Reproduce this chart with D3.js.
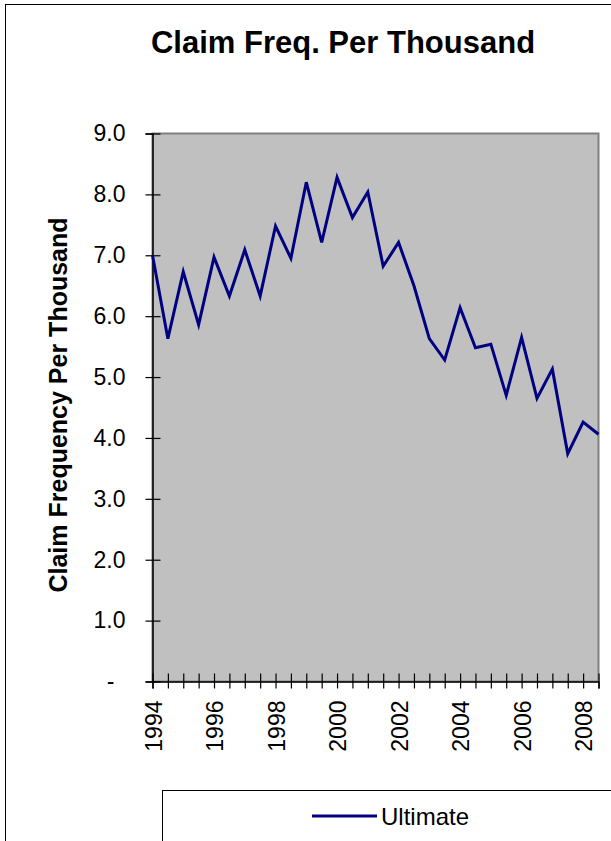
<!DOCTYPE html>
<html>
<head>
<meta charset="utf-8">
<script src="https://cdn.jsdelivr.net/npm/d3@7"></script>
<style>
    body { margin: 0; background: #fff; }
    svg { display: block; font-family: "Liberation Sans", Arial, sans-serif; }
</style>
</head>
<body>
<div id="chart"></div>
<script>

// half-year points, 1994 .. 2008.5
let periods = [1994, 1994.5, 1995, 1995.5, 1996, 1996.5, 1997, 1997.5, 1998, 1998.5,
               1999, 1999.5, 2000, 2000.5, 2001, 2001.5, 2002, 2002.5, 2003, 2003.5,
               2004, 2004.5, 2005, 2005.5, 2006, 2006.5, 2007, 2007.5, 2008, 2008.5];

let ultimate = [7.00, 5.63, 6.73, 5.86, 6.97, 6.33, 7.09, 6.33, 7.48, 6.95,
                8.20, 7.21, 8.28, 7.62, 8.04, 6.82, 7.21, 6.50, 5.63, 5.28,
                6.14, 5.48, 5.54, 4.70, 5.65, 4.65, 5.13, 3.74, 4.26, 4.06];

let yTicks = [0, 1, 2, 3, 4, 5, 6, 7, 8, 9];
let yearLabels = [1994, 1996, 1998, 2000, 2002, 2004, 2006, 2008];

let width = 611, height = 841;
let plot = {left: 152.5, right: 598.5, top: 133.5, bottom: 681.5};

let svg = d3.select("#chart").append("svg")
    .attr("width", width)
    .attr("height", height);

// outer chart frame (runs off the picture on the right and bottom)
svg.append("rect")
    .attr("x", 5.5).attr("y", 4.5)
    .attr("width", 700).attr("height", 900)
    .attr("fill", "#fff")
    .attr("stroke", "#000").attr("stroke-width", 1);

// title
svg.append("text")
    .attr("x", 343).attr("y", 53)
    .attr("text-anchor", "middle")
    .attr("font-size", 31).attr("font-weight", "bold")
    .text("Claim Freq. Per Thousand");

let x = d3.scaleLinear()
    .domain([periods[0], periods[periods.length - 1]])
    .range([plot.left, plot.right]);

let y = d3.scaleLinear()
    .domain([0, 9])
    .range([plot.bottom, plot.top]);

// plot area
svg.append("rect")
    .attr("x", plot.left).attr("y", plot.top)
    .attr("width", plot.right - plot.left).attr("height", plot.bottom - plot.top)
    .attr("fill", "#c0c0c0")
    .attr("stroke", "#808080").attr("stroke-width", 2);

// y axis
let yAxis = d3.axisLeft(y)
    .tickValues(yTicks)
    .tickSize(7)
    .tickFormat(d => d === 0 ? "-" : d3.format(".1f")(d));

let gy = svg.append("g")
    .attr("transform", "translate(" + plot.left + ",0)")
    .call(yAxis);
gy.select(".domain").attr("stroke", "#000").attr("stroke-width", 1.5);
gy.selectAll(".tick line").attr("x1", 8).attr("stroke", "#000").attr("stroke-width", 1.2);
gy.selectAll(".tick text")
    .attr("font-size", 23)
    .attr("font-family", "Liberation Sans, Arial, sans-serif")
    .attr("fill", "#000")
    .attr("x", d => d === 0 ? -38 : -27);

// x axis
let xAxis = d3.axisBottom(x)
    .tickValues(periods)
    .tickSize(7)
    .tickFormat(d => yearLabels.includes(d) ? d3.format("d")(d) : "");

let gx = svg.append("g")
    .attr("transform", "translate(0," + plot.bottom + ")")
    .call(xAxis);
gx.select(".domain").attr("stroke", "#000").attr("stroke-width", 1.5);
gx.selectAll(".tick line").attr("y1", -8).attr("stroke", "#000").attr("stroke-width", 1.2);
gx.selectAll(".tick text")
    .attr("font-size", 23)
    .attr("font-family", "Liberation Sans, Arial, sans-serif")
    .attr("fill", "#000")
    .attr("text-anchor", "end")
    .attr("transform", "rotate(-90)")
    .attr("x", -19)
    .attr("y", 0)
    .attr("dy", "0.38em");

// y axis title
svg.append("text")
    .attr("transform", "translate(67,405) rotate(-90)")
    .attr("text-anchor", "middle")
    .attr("font-size", 25).attr("font-weight", "bold")
    .text("Claim Frequency Per Thousand");

// the series
let line = d3.line()
    .x((d, i) => x(periods[i]))
    .y(d => y(d));

svg.append("path")
    .datum(ultimate)
    .attr("fill", "none")
    .attr("stroke", "#000080")
    .attr("stroke-width", 3)
    .attr("stroke-linejoin", "miter")
    .attr("d", line);

// legend
let legend = svg.append("g");
legend.append("rect")
    .attr("x", 162.5).attr("y", 790.5)
    .attr("width", 600).attr("height", 200)
    .attr("fill", "#fff")
    .attr("stroke", "#000").attr("stroke-width", 1);
legend.append("line")
    .attr("x1", 312).attr("x2", 377)
    .attr("y1", 816).attr("y2", 816)
    .attr("stroke", "#000080").attr("stroke-width", 3);
legend.append("text")
    .attr("x", 381).attr("y", 825)
    .attr("font-size", 24)
    .text("Ultimate");

</script>
</body>
</html>
